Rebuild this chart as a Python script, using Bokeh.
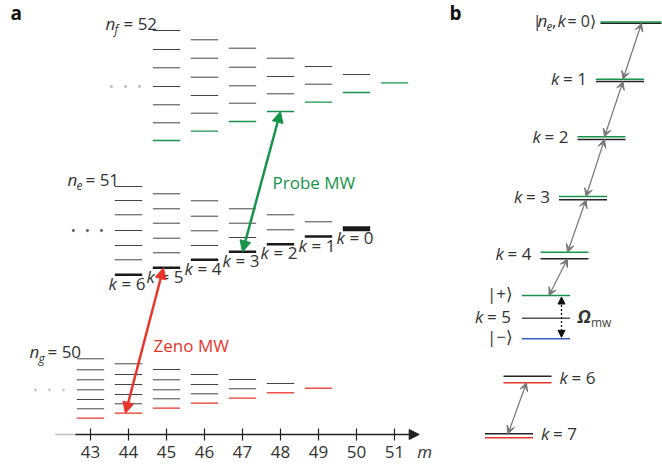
from bokeh.plotting import figure
from bokeh.layouts import row
from bokeh.models import Range1d, Arrow, NormalHead, VeeHead, Label
from bokeh.core.properties import value
from bokeh.embed import file_html
from bokeh.resources import INLINE

# ---------------- data: panel a (energy in arbitrary units, up = higher) ----------------
m_ticks = [43, 44, 45, 46, 47, 48, 49, 50, 51]
tick_labels = ["43", "44", "45", "46", "47", "48", "49", "50", "51"]

ng_n = 50
ng_m = [43, 44, 45, 46, 47, 48, 49]
ng_levels = [
    [38.3, 47.7, 57.0, 66.7, 76.7, 86.7, 97.7],
    [43.3, 52.7, 62.0, 72.0, 82.0, 92.7],
    [48.3, 57.7, 66.7, 76.7, 87.0],
    [53.3, 62.7, 72.0, 82.0],
    [58.3, 67.7, 77.0],
    [63.7, 73.0],
    [68.3],
]

ne_n = 51
ne_m = [44, 45, 46, 47, 48, 49, 50]
ne_levels = [
    [181.7, 196.7, 211.0, 226.0, 241.7, 256.0, 270.0],
    [188.7, 203.7, 218.3, 233.3, 247.7, 262.7],
    [196.7, 211.0, 225.7, 240.3, 255.7],
    [204.7, 219.0, 233.3, 247.7],
    [212.3, 226.7, 241.7],
    [220.0, 234.7],
    [227.7],
]
ne_k = [6, 5, 4, 3, 2, 1, 0]

nf_n = 52
nf_m = [45, 46, 47, 48, 49, 50, 51]
nf_levels = [
    [316.0, 333.7, 351.7, 370.0, 388.7, 407.0, 426.0],
    [325.3, 343.3, 361.0, 379.3, 398.3, 416.7],
    [335.0, 353.3, 370.7, 389.3, 408.3],
    [345.0, 362.7, 380.0, 398.3],
    [354.3, 372.3, 390.0],
    [364.0, 382.0],
    [373.7],
]

zeno_from_m, zeno_to_m = 44, 45     # n_g -> n_e
probe_from_m, probe_to_m = 47, 48   # n_e -> n_f

# ---------------- data: panel b ----------------
b_k = [0, 1, 2, 3, 4, 5, 6, 7]
b_bare = [433.3, 375.0, 317.0, 256.7, 197.7, 138.3, 80.3, 22.7]
b_dressed = [434.5, 377.3, 319.7, 260.0, 204.3, 161.0, 73.7, 18.7]
b_minus_k5 = 117.7

# ---------------- style ----------------
FONT_NAME = "Open Sans"
FONT = value(FONT_NAME)
TXT = "#333333"
LEVEL = "#444444"
GREEN = "#16944a"
RED = "#e8352b"
BLUE = "#3b5fc0"
GRAY_ARROW = "#777777"
HW = 0.36  # half width of a level bar in m units

W_A, W_B, H = 444, 218, 464


def make_fig(w, xr):
    f = figure(width=w, height=H, x_range=xr, y_range=Range1d(-8, H - 8),
               output_backend="svg", toolbar_location=None,
               x_axis_type=None, y_axis_type=None, min_border=0,
               outline_line_color=None, background_fill_color="white",
               border_fill_color="white")
    f.grid.visible = False
    return f


def txt(p, x, y, s, size=17, color=TXT, style="normal", align="left",
        xo=0, yo=0):
    p.text(x=[x], y=[y], text=[s], text_font=FONT,
           text_font_size=f"{size}px", text_color=color,
           text_font_style=style, text_align=align,
           text_baseline="alphabetic", x_offset=xo,
           y_offset=yo - 0.47 * size)


# ================= panel a =================
x0a = 43 - 90 / 38
pa = make_fig(W_A, Range1d(x0a, x0a + W_A / 38))

manifolds = [
    (ng_n, "g", ng_m, ng_levels, RED, "#cccccc"),
    (ne_n, "e", ne_m, ne_levels, None, "#555555"),
    (nf_n, "f", nf_m, nf_levels, GREEN, "#bbbbbb"),
]

for n, sub, ms, levs, bottom_color, dot_color in manifolds:
    xs0, xs1, ys = [], [], []
    for m, col in zip(ms, levs):
        for e in col[1:]:
            xs0.append(m - HW); xs1.append(m + HW); ys.append(e)
    pa.segment(x0=xs0, x1=xs1, y0=ys, y1=ys, line_color=LEVEL, line_width=1)
    bx0 = [m - HW for m in ms]
    bx1 = [m + HW for m in ms]
    by = [col[0] for col in levs]
    if bottom_color is not None:
        pa.segment(x0=bx0, x1=bx1, y0=by, y1=by, line_color=bottom_color,
                   line_width=1.3)
    else:
        widths = [5 if k == 0 else 2.6 for k in ne_k]
        pa.segment(x0=bx0, x1=bx1, y0=by, y1=by, line_color="#1a1a1a",
                   line_width=widths)
    # dots at left
    mid = levs[0][3]
    pa.scatter(x=[ms[0] - 1.45, ms[0] - 1.08, ms[0] - 0.71], y=[mid] * 3,
               size=2.2, color=dot_color, marker="circle")
    # manifold label
    top = levs[0][-1]
    txt(pa, ms[0], top, "n", 17, style="italic", xo=-61, yo=1)
    txt(pa, ms[0], top, sub, 12, style="italic", xo=-52, yo=5)
    txt(pa, ms[0], top, f"= {n}", 17, xo=-43, yo=1)

# k labels under n_e bottom levels
for m, col, k in zip(ne_m, ne_levels, ne_k):
    txt(pa, m, col[0], "k", 17, style="italic", xo=-20, yo=16.5)
    txt(pa, m, col[0], f"= {k}", 17, xo=-7, yo=16.5)

# microwave arrows
ng_bottom = dict(zip(ng_m, [c[0] for c in ng_levels]))
ne_bottom = dict(zip(ne_m, [c[0] for c in ne_levels]))
nf_bottom = dict(zip(nf_m, [c[0] for c in nf_levels]))

pa.add_layout(Arrow(
    start=NormalHead(size=11, fill_color=RED, line_color=RED),
    end=NormalHead(size=11, fill_color=RED, line_color=RED),
    x_start=zeno_from_m - 0.08, y_start=ng_bottom[zeno_from_m],
    x_end=zeno_to_m - 0.08, y_end=ne_bottom[zeno_to_m],
    line_color=RED, line_width=2.5))
pa.add_layout(Arrow(
    start=NormalHead(size=11, fill_color=GREEN, line_color=GREEN),
    end=NormalHead(size=11, fill_color=GREEN, line_color=GREEN),
    x_start=probe_from_m, y_start=ne_bottom[probe_from_m],
    x_end=probe_to_m, y_end=nf_bottom[probe_to_m],
    line_color=GREEN, line_width=2.5))

txt(pa, probe_to_m - 0.21, 266, "Probe MW", 17, color=GREEN)
txt(pa, zeno_to_m - 0.34, 103, "Zeno MW", 17, color=RED)

# m axis
AX_Y = 22
pa.segment(x0=[m_ticks[0] - 0.92], x1=[m_ticks[0] - 0.4], y0=[AX_Y], y1=[AX_Y],
           line_color="#888888", line_width=1.3, line_dash="1 1")
pa.add_layout(Arrow(end=NormalHead(size=10, fill_color="#222", line_color="#222"),
                    x_start=m_ticks[0] - 0.4, y_start=AX_Y,
                    x_end=m_ticks[-1] + 0.65, y_end=AX_Y,
                    line_color="#222", line_width=1.3))
pa.segment(x0=m_ticks, x1=m_ticks, y0=[AX_Y - 6] * len(m_ticks),
           y1=[AX_Y + 6] * len(m_ticks), line_color="#222", line_width=1.2)
pa.text(x=m_ticks, y=[AX_Y] * len(m_ticks), text=tick_labels, text_font=FONT,
        text_font_size="17px", text_color=TXT, text_align="center",
        text_baseline="alphabetic", y_offset=25 - 0.47 * 17)
txt(pa, m_ticks[-1] + 0.6, AX_Y, "m", 17, style="italic", yo=25)

pa.add_layout(Label(x=10, y=439, x_units="screen", y_units="screen", text="a",
                    text_font=FONT_NAME, text_font_size="19px",
                    text_font_style="bold", text_color="#111"))

# ================= panel b =================
pb = make_fig(W_B, Range1d(444, 444 + W_B))


def bx(k):
    return 614 - 18.5 * k


LEN = 48
for k, eb, ed in zip(b_k, b_bare, b_dressed):
    x0 = bx(k)
    x1 = x0 + LEN
    if k == 0:
        x0, x1 = 600, 661
    dcol = GREEN if k <= 5 else RED
    bcol = "#555555" if k == 5 else "#222222"
    pb.segment(x0=[x0], x1=[x1], y0=[eb], y1=[eb], line_color=bcol, line_width=1.5)
    pb.segment(x0=[x0], x1=[x1], y0=[ed], y1=[ed], line_color=dcol, line_width=1.5)
    if k == 5:
        pb.segment(x0=[x0], x1=[x1], y0=[b_minus_k5], y1=[b_minus_k5],
                   line_color=BLUE, line_width=1.5)

# level labels
for k, eb, ed in zip(b_k, b_bare, b_dressed):
    yc = (eb + ed) / 2
    if k == 0:
        x = 600
        txt(pb, x, yc, "|", 17, xo=-68, yo=6)
        txt(pb, x, yc, "n", 17, style="italic", xo=-63, yo=6)
        txt(pb, x, yc, "e", 12, style="italic", xo=-54, yo=10)
        txt(pb, x, yc, ",", 17, xo=-48.5, yo=6)
        txt(pb, x, yc, "k", 17, style="italic", xo=-43, yo=6)
        txt(pb, x, yc, "= 0\u27e9", 16, xo=-33, yo=6)
    elif k == 5:
        yc = b_bare[5]
        txt(pb, bx(k), yc, "k", 17, style="italic", xo=-47, yo=6)
        txt(pb, bx(k), yc, f"= {k}", 17, xo=-35, yo=6)
        txt(pb, bx(k), b_dressed[5], "|+\u27e9", 17, align="right", xo=-9, yo=6)
        txt(pb, bx(k), b_minus_k5, "|\u2212\u27e9", 17, align="right", xo=-9, yo=6)
    elif k <= 4:
        txt(pb, bx(k), yc, "k", 17, style="italic", xo=-45, yo=6)
        txt(pb, bx(k), yc, f"= {k}", 17, xo=-33, yo=6)
    else:
        txt(pb, bx(k), yc, "k", 17, style="italic", xo=LEN + 8, yo=6)
        txt(pb, bx(k), yc, f"= {k}", 17, xo=LEN + 20, yo=6)

# Omega_mw coupling
xo_arrow = bx(5) + 39.5
pb.add_layout(Arrow(
    start=NormalHead(size=7, fill_color="#111", line_color="#111"),
    end=NormalHead(size=7, fill_color="#111", line_color="#111"),
    x_start=xo_arrow, y_start=b_dressed[5] - 1.5,
    x_end=xo_arrow, y_end=b_minus_k5 + 1.5,
    line_color="#111", line_width=1.3, line_dash="2 2"))
txt(pb, bx(5), b_bare[5], "\u03a9", 18, style="bold italic", xo=55.5, yo=6)
txt(pb, bx(5), b_bare[5], "mw", 12, color="#444", xo=69, yo=10)

# gray coupling arrows between neighbouring k
for k in [0, 1, 2, 3, 4, 6]:
    dx = 27 if k < 6 else 23
    y_top = min(b_bare[k], b_dressed[k])
    y_bot = max(b_bare[k + 1], b_dressed[k + 1])
    pb.add_layout(Arrow(
        start=VeeHead(size=8, fill_color=GRAY_ARROW, line_color=GRAY_ARROW),
        end=VeeHead(size=8, fill_color=GRAY_ARROW, line_color=GRAY_ARROW),
        x_start=bx(k) + dx, y_start=y_top,
        x_end=bx(k + 1) + dx, y_end=y_bot,
        line_color=GRAY_ARROW, line_width=1.2))

pb.add_layout(Label(x=5, y=439, x_units="screen", y_units="screen", text="b",
                    text_font=FONT_NAME, text_font_size="19px",
                    text_font_style="bold", text_color="#111"))

layout = row(pa, pb)
open("out.html", "w").write(file_html(layout, INLINE))
